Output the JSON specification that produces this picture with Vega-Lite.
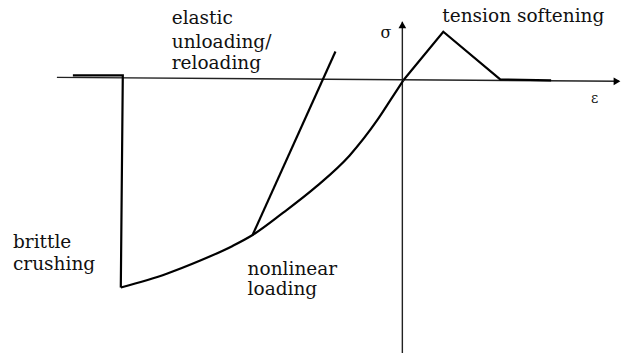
{
  "$schema": "https://vega.github.io/schema/vega-lite/v6.json",
  "width": 622,
  "height": 356,
  "autosize": {"type": "fit", "contains": "padding"},
  "padding": 0,
  "background": "white",
  "config": {"view": {"stroke": null}},
  "datasets": {
    "axes": [
      {"s": "h", "i": 0, "x": -347, "y": 3},
      {"s": "h", "i": 1, "x": 216, "y": -1},
      {"s": "v", "i": 0, "x": -1, "y": 59},
      {"s": "v", "i": 1, "x": -1, "y": -275}
    ],
    "straight": [
      {"s": "flat", "i": 0, "x": -331, "y": 5},
      {"s": "flat", "i": 1, "x": -281, "y": 5},
      {"s": "flat", "i": 2, "x": -283, "y": -209},
      {"s": "tension", "i": 0, "x": 0, "y": 0},
      {"s": "tension", "i": 1, "x": 40, "y": 49},
      {"s": "tension", "i": 2, "x": 97, "y": 1},
      {"s": "tension", "i": 3, "x": 148, "y": 0},
      {"s": "unload", "i": 0, "x": -151, "y": -156},
      {"s": "unload", "i": 1, "x": -68, "y": 29}
    ],
    "curve": [
      {"i": 0, "x": -283, "y": -209},
      {"i": 1, "x": -237, "y": -195},
      {"i": 2, "x": -204, "y": -182},
      {"i": 3, "x": -171, "y": -167},
      {"i": 4, "x": -151, "y": -156},
      {"i": 5, "x": -121, "y": -134},
      {"i": 6, "x": -87, "y": -107},
      {"i": 7, "x": -54, "y": -76},
      {"i": 8, "x": -26, "y": -40},
      {"i": 9, "x": -11, "y": -17},
      {"i": 10, "x": 0, "y": 0}
    ],
    "arrows": [
      {"dir": "triangle-up", "x": -1, "y": 56},
      {"dir": "triangle-right", "x": 214, "y": -1}
    ],
    "labels": [
      {"t": "elastic", "x": -232, "y": 57, "sz": 18.5},
      {"t": "unloading/", "x": -232, "y": 33, "sz": 18.5},
      {"t": "reloading", "x": -232, "y": 11, "sz": 18.5},
      {"t": "tension softening", "x": 39, "y": 59, "sz": 18.5},
      {"t": "σ", "x": -23, "y": 43, "sz": 16},
      {"t": "ε", "x": 188, "y": -23, "sz": 14},
      {"t": "brittle", "x": -391, "y": -169, "sz": 18.5},
      {"t": "crushing", "x": -391, "y": -191, "sz": 18.5},
      {"t": "nonlinear", "x": -156, "y": -196, "sz": 18.5},
      {"t": "loading", "x": -156, "y": -217, "sz": 18.5}
    ]
  },
  "encoding": {
    "x": {"field": "x", "type": "quantitative", "scale": {"domain": [-404, 218], "nice": false, "zero": false}, "axis": null},
    "y": {"field": "y", "type": "quantitative", "scale": {"domain": [-275, 81], "nice": false, "zero": false}, "axis": null}
  },
  "layer": [
    {
      "data": {"name": "axes"},
      "mark": {"type": "line", "color": "#222222", "strokeWidth": 1.4},
      "encoding": {"detail": {"field": "s"}, "order": {"field": "i", "type": "quantitative"}}
    },
    {
      "data": {"name": "straight"},
      "mark": {"type": "line", "color": "#000000", "strokeWidth": 2.2, "strokeJoin": "miter"},
      "encoding": {"detail": {"field": "s"}, "order": {"field": "i", "type": "quantitative"}}
    },
    {
      "data": {"name": "curve"},
      "mark": {"type": "line", "color": "#000000", "strokeWidth": 2.2, "interpolate": "monotone"},
      "encoding": {"order": {"field": "i", "type": "quantitative"}}
    },
    {
      "data": {"name": "arrows"},
      "mark": {"type": "point", "filled": true, "color": "#000000", "size": 60, "opacity": 1},
      "encoding": {"shape": {"field": "dir", "type": "nominal", "scale": null}}
    },
    {
      "data": {"name": "labels"},
      "mark": {"type": "text", "align": "left", "baseline": "alphabetic", "font": "DejaVu Serif", "color": "#111111"},
      "encoding": {
        "text": {"field": "t"},
        "size": {"field": "sz", "type": "quantitative", "scale": null}
      }
    }
  ]
}
